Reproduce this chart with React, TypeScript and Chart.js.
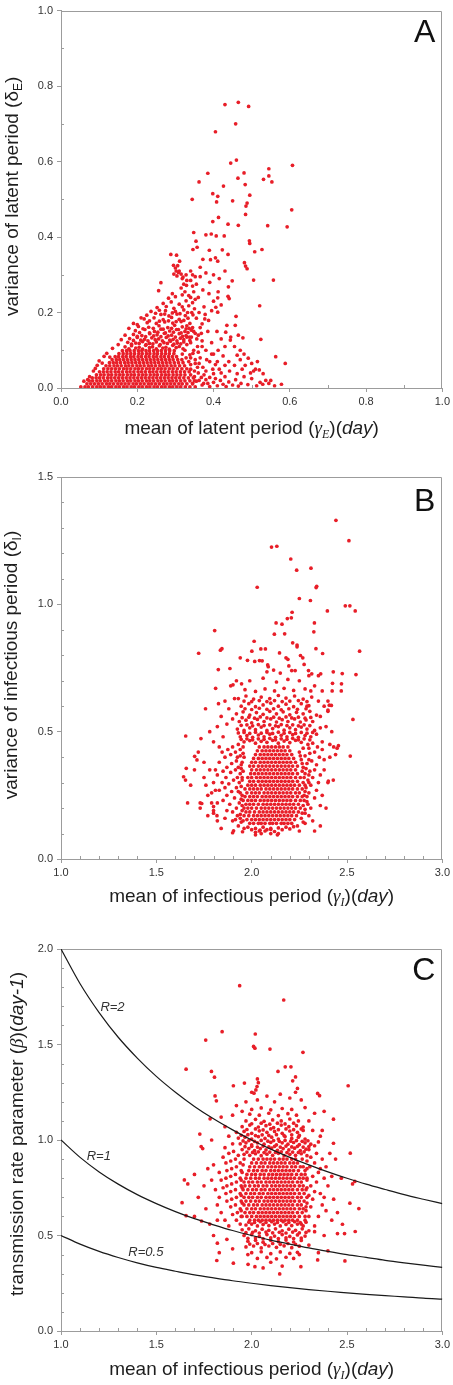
import React, { useEffect, useRef } from "react";
import { Chart, registerables } from "chart.js";
Chart.register(...registerables);

type Pt = [number, number];

// ---------------- Panel A : latent period ----------------
const A_CORE_Y = [.003, .011, .019, .027, .035, .043, .051, .059, .067, .075, .083, .091, .099];
const A_CORE_X = [
  [.052, .063, .072, .083, .094, .103, .113, .124, .133, .144, .153, .164, .173, .184, .193, .204, .213, .224, .233, .244, .253, .264, .273, .284, .293, .304, .314, .326, .338, .352],
  [.068, .078, .088, .098, .108, .119, .128, .138, .149, .158, .168, .178, .189, .198, .208, .218, .229, .238, .248, .258, .269, .278, .288, .298, .309, .318, .33, .345],
  [.074, .083, .094, .103, .114, .123, .133, .144, .153, .163, .174, .183, .194, .203, .213, .224, .233, .243, .254, .263, .273, .284, .293, .303, .314, .325, .338, .35],
  [.082, .092, .101, .111, .122, .131, .141, .151, .161, .171, .181, .191, .201, .211, .221, .231, .241, .251, .261, .271, .281, .291, .301, .311, .322, .334, .347],
  [.093, .104, .113, .124, .133, .144, .154, .163, .174, .184, .193, .204, .214, .223, .234, .244, .253, .264, .274, .283, .294, .304, .314, .325, .34],
  [.101, .111, .121, .131, .142, .151, .161, .172, .181, .191, .202, .211, .221, .232, .241, .251, .262, .271, .281, .292, .302, .313, .324, .336],
  [.112, .123, .133, .143, .153, .164, .173, .183, .194, .203, .213, .224, .233, .243, .254, .263, .273, .284, .294, .305, .317, .33],
  [.118, .128, .139, .148, .158, .169, .178, .188, .199, .208, .218, .229, .238, .248, .259, .268, .278, .289, .299, .311, .324],
  [.127, .137, .146, .156, .167, .176, .186, .196, .206, .216, .226, .236, .246, .256, .266, .276, .286, .297, .308, .32],
  [.134, .145, .154, .164, .174, .184, .194, .204, .214, .224, .234, .244, .254, .264, .274, .284, .294, .306, .317],
  [.142, .151, .162, .171, .182, .191, .202, .211, .222, .231, .242, .251, .262, .271, .282, .292, .303],
  [.152, .163, .173, .183, .193, .204, .213, .224, .233, .244, .253, .264, .274, .284, .296],
  [.161, .172, .181, .192, .203, .212, .223, .232, .243, .253, .263, .274, .285, .297],
];
const A_MID: Pt[] = [
  [.168, .109], [.185, .112], [.205, .108], [.222, .113], [.24, .109], [.258, .112], [.275, .108], [.293, .113], [.31, .11],
  [.175, .121], [.196, .119], [.214, .123], [.232, .118], [.25, .122], [.27, .12], [.287, .124], [.305, .119], [.322, .122],
  [.18, .131], [.2, .134], [.219, .129], [.238, .133], [.256, .13], [.276, .134], [.294, .129], [.313, .132], [.33, .135],
  [.19, .142], [.212, .139], [.233, .144], [.252, .141], [.271, .145], [.29, .14], [.31, .144], [.328, .139],
  [.195, .152], [.22, .155], [.245, .15], [.262, .156], [.285, .151], [.303, .155], [.325, .15], [.342, .153],
  [.203, .163], [.23, .161], [.257, .165], [.28, .16], [.298, .166], [.318, .162], [.336, .158],
  [.2, .168], [.226, .173], [.25, .171], [.272, .175], [.293, .172], [.315, .176], [.338, .171],
  [.218, .183], [.244, .186], [.268, .181], [.29, .187], [.31, .182], [.333, .185],
  [.225, .193], [.262, .195], [.283, .191], [.304, .196], [.326, .192], [.346, .194],
  [.236, .203], [.258, .206], [.3, .203], [.322, .207], [.343, .2],
  [.252, .213], [.276, .216], [.296, .211], [.318, .215], [.335, .218],
  [.268, .224], [.289, .228], [.31, .222], [.328, .231], [.345, .226], [.282, .238], [.3, .242], [.318, .247], [.34, .24], [.352, .235], [.292, .25], [.274, .205], [.21, .186], [.19, .171],
  [.113, .084], [.095, .06], [.085, .045], [.075, .03], [.06, .018], [.1, .072], [.12, .092], [.135, .105], [.15, .115], [.158, .128], [.168, .14], [.178, .158], [.09, .052], [.07, .022], [.108, .066], [.128, .082],
  [.34, .05], [.352, .065], [.36, .04], [.365, .08], [.372, .055], [.348, .1], [.358, .11], [.37, .125], [.36, .14], [.38, .1], [.39, .07], [.385, .15], [.37, .17], [.355, .185], [.345, .16], [.362, .2], [.375, .215], [.35, .21], [.395, .12], [.4, .09], [.34, .08], [.35, .03], [.362, .02], [.375, .035], [.382, .075], [.398, .05], [.41, .07], [.42, .04], [.405, .025], [.43, .06], [.356, .13], [.368, .145], [.378, .195], [.34, .12],
  [.315, .265], [.325, .255], [.335, .245], [.345, .27], [.33, .285], [.318, .29], [.348, .255], [.36, .24], [.355, .275], [.365, .295], [.372, .26], [.38, .305], [.39, .28], [.388, .25], [.4, .23], [.412, .255], [.395, .205], [.42, .22], [.328, .3], [.34, .31], [.31, .31], [.365, .32], [.4, .3], [.415, .29], [.43, .31],
];
const A_MID2: Pt[] = [
  [.178, .104], [.196, .106], [.214, .103], [.232, .107], [.25, .104], [.267, .106], [.284, .103], [.302, .107], [.32, .104],
  [.185, .116], [.205, .118], [.223, .115], [.241, .117], [.26, .115], [.279, .118], [.296, .116], [.314, .117], [.33, .115],
  [.19, .126], [.209, .127], [.228, .125], [.247, .128], [.266, .125], [.285, .127], [.304, .125], [.322, .128], [.338, .126],
  [.2, .137], [.222, .136], [.243, .138], [.262, .136], [.281, .138], [.3, .135], [.319, .137], [.337, .135],
  [.206, .147], [.232, .146], [.254, .148], [.274, .146], [.295, .148], [.315, .146], [.333, .147],
  [.215, .157], [.242, .158], [.268, .156], [.29, .158], [.308, .155], [.328, .157], [.348, .15],
  [.232, .178], [.258, .177], [.282, .178], [.302, .176], [.322, .179],
  [.248, .198], [.272, .196], [.292, .199], [.312, .197], [.332, .2],
  [.345, .012], [.355, .018], [.35, .045], [.358, .055], [.34, .062], [.352, .075], [.338, .088], [.346, .092], [.362, .065], [.368, .028], [.374, .012], [.38, .022], [.335, .07], [.328, .08], [.318, .09], [.325, .1], [.36, .095], [.37, .11], [.342, .135], [.352, .145], [.365, .16], [.33, .165],
];
const A_BAND: Pt[] = [
  [.37, .008], [.385, .012], [.39, .004], [.4, .015], [.41, .006], [.418, .02], [.425, .01], [.433, .004], [.44, .016], [.45, .008], [.458, .022], [.465, .005], [.472, .012], [.48, .03], [.49, .009], [.497, .04], [.505, .045], [.51, .05], [.52, .048], [.53, .038], [.537, .02], [.545, .012], [.522, .015], [.513, .006], [.55, .02], [.56, .006], [.462, .038], [.475, .05], [.455, .06], [.442, .045], [.43, .03], [.415, .05], [.4, .038], [.39, .028], [.38, .045], [.47, .075], [.483, .06], [.5, .025], [.529, .01], [.405, .062], [.44, .07], [.425, .085], [.395, .09], [.455, .11], [.48, .09], [.5, .065], [.515, .07], [.47, .1], [.43, .11], [.445, .135], [.42, .13], [.465, .14],
];
const A_OUT: Pt[] = [
  [.43, .751], [.465, .757], [.492, .746], [.458, .7], [.405, .679], [.46, .604], [.445, .596], [.607, .59], [.545, .581], [.48, .57], [.385, .569], [.464, .556], [.545, .562], [.531, .553], [.553, .546], [.362, .546], [.483, .539], [.426, .535], [.495, .511], [.398, .515], [.411, .508], [.408, .493], [.344, .5], [.45, .496], [.488, .49], [.485, .482], [.605, .472], [.484, .46], [.413, .452], [.398, .441], [.438, .434], [.542, .43], [.465, .431], [.593, .427], [.348, .412], [.38, .406], [.394, .408], [.407, .403], [.428, .403], [.494, .39], [.495, .383], [.354, .389], [.357, .373], [.346, .367], [.389, .365], [.423, .366], [.527, .367], [.508, .361], [.288, .354], [.303, .352], [.311, .336], [.405, .345], [.411, .336], [.372, .341], [.392, .34], [.438, .354], [.481, .332], [.484, .323], [.488, .316], [.505, .286], [.557, .286], [.449, .284], [.262, .279], [.439, .268], [.256, .258], [.438, .243], [.441, .237], [.411, .239], [.521, .218], [.406, .214], [.411, .201], [.459, .19], [.377, .183], [.387, .179], [.435, .166], [.457, .166], [.409, .15], [.432, .148], [.524, .129], [.444, .127], [.477, .133], [.412, .1], [.563, .083], [.588, .065], [.491, .079], [.462, .087], [.578, .01],
  [.295, .325], [.3, .318], [.306, .324], [.302, .31], [.296, .302], [.304, .297], [.308, .306], [.315, .302], [.32, .294], [.322, .275], [.329, .272], [.34, .285], [.352, .295], [.345, .3],
];

// ---------------- Panel B : infectious period (variance) ----------------
const B_CORE_Y = [.14, .155, .17, .185, .2, .215, .23, .245, .26, .275, .29, .305, .32, .335, .35, .365, .38, .395, .41, .425, .44];
const B_CORE_X = [
  [1.99, 2.01, 2.035, 2.05, 2.07, 2.095, 2.11, 2.13, 2.155, 2.17, 2.19, 2.21],
  [1.975, 2.0, 2.02, 2.04, 2.06, 2.08, 2.1, 2.12, 2.14, 2.16, 2.18, 2.2, 2.225],
  [1.96, 1.985, 2.01, 2.03, 2.05, 2.07, 2.09, 2.11, 2.13, 2.15, 2.17, 2.19, 2.21, 2.235],
  [1.97, 1.99, 2.015, 2.04, 2.06, 2.08, 2.1, 2.12, 2.14, 2.16, 2.18, 2.2, 2.22, 2.245],
  [1.96, 1.98, 2.0, 2.025, 2.05, 2.07, 2.09, 2.11, 2.13, 2.15, 2.17, 2.19, 2.21, 2.23, 2.255],
  [1.97, 1.99, 2.01, 2.035, 2.06, 2.08, 2.1, 2.12, 2.14, 2.16, 2.18, 2.2, 2.22, 2.245],
  [1.955, 1.98, 2.0, 2.02, 2.045, 2.065, 2.085, 2.105, 2.125, 2.145, 2.165, 2.185, 2.205, 2.23, 2.255],
  [1.965, 1.99, 2.01, 2.03, 2.055, 2.075, 2.095, 2.115, 2.135, 2.155, 2.175, 2.195, 2.215, 2.24, 2.265],
  [1.975, 2.0, 2.02, 2.04, 2.065, 2.085, 2.105, 2.125, 2.145, 2.165, 2.185, 2.205, 2.23, 2.25],
  [1.965, 1.99, 2.01, 2.03, 2.05, 2.075, 2.095, 2.115, 2.135, 2.155, 2.175, 2.195, 2.215, 2.24, 2.265],
  [1.98, 2.0, 2.02, 2.045, 2.065, 2.085, 2.105, 2.125, 2.145, 2.165, 2.185, 2.205, 2.225, 2.25],
  [1.99, 2.01, 2.035, 2.055, 2.075, 2.095, 2.115, 2.135, 2.155, 2.175, 2.195, 2.215, 2.24],
  [1.98, 2.0, 2.025, 2.045, 2.065, 2.085, 2.105, 2.125, 2.145, 2.165, 2.185, 2.205, 2.23, 2.255],
  [1.995, 2.015, 2.035, 2.055, 2.075, 2.095, 2.115, 2.135, 2.155, 2.175, 2.195, 2.215, 2.24],
  [2.0, 2.025, 2.045, 2.065, 2.085, 2.105, 2.125, 2.145, 2.165, 2.185, 2.205, 2.23],
  [1.99, 2.01, 2.035, 2.055, 2.075, 2.095, 2.115, 2.135, 2.155, 2.175, 2.195, 2.215, 2.24],
  [2.0, 2.02, 2.045, 2.065, 2.085, 2.105, 2.125, 2.145, 2.165, 2.185, 2.205, 2.23],
  [2.01, 2.035, 2.055, 2.075, 2.095, 2.115, 2.135, 2.155, 2.175, 2.195, 2.22],
  [2.02, 2.045, 2.065, 2.085, 2.105, 2.125, 2.145, 2.165, 2.185, 2.21],
  [2.03, 2.055, 2.075, 2.095, 2.115, 2.135, 2.155, 2.175, 2.2],
  [2.04, 2.065, 2.085, 2.105, 2.125, 2.145, 2.165, 2.19],
];
const B_MID: Pt[] = [
  [1.93, .13], [1.915, .155], [1.94, .175], [1.92, .2], [1.9, .185], [1.935, .22], [1.91, .24], [1.885, .215], [1.94, .26], [1.92, .28], [1.895, .265], [1.87, .25], [1.935, .3], [1.905, .31], [1.88, .295], [1.86, .28], [1.94, .335], [1.915, .35], [1.89, .34], [1.865, .32], [1.845, .3], [1.945, .37], [1.92, .385], [1.895, .375], [1.87, .36], [1.85, .345], [1.94, .405], [1.915, .42], [1.89, .41], [1.86, .4], [1.83, .38], [1.955, .44], [1.93, .45], [1.9, .44], [1.875, .43], [1.845, .42], [1.82, .33], [1.83, .27], [1.85, .23], [1.87, .19], [1.9, .15], [1.86, .16], [1.82, .22], [1.8, .3], [1.81, .35], [1.79, .26], [1.955, .15], [1.95, .21], [1.95, .32], [1.96, .4],
  [2.24, .13], [2.26, .16], [2.28, .18], [2.27, .21], [2.29, .225], [2.275, .25], [2.3, .26], [2.285, .28], [2.31, .29], [2.27, .3], [2.295, .31], [2.32, .32], [2.28, .335], [2.305, .345], [2.33, .35], [2.27, .36], [2.29, .375], [2.315, .385], [2.34, .37], [2.26, .39], [2.28, .405], [2.305, .415], [2.33, .42], [2.355, .4], [2.25, .42], [2.27, .435], [2.295, .45], [2.32, .455], [2.345, .44], [2.37, .43], [2.31, .2], [2.33, .24], [2.35, .3], [2.36, .33], [2.34, .27], [2.3, .17], [2.32, .15], [2.25, .11], [2.28, .14], [2.36, .21], [2.38, .35], [2.37, .46],
  [1.96, .12], [1.98, .125], [2.0, .115], [2.02, .12], [2.04, .11], [2.06, .125], [2.08, .115], [2.1, .12], [2.12, .108], [2.14, .122], [2.16, .115], [2.18, .125], [2.2, .118], [2.22, .127], [2.05, .1], [2.1, .1], [2.135, .095], [2.02, .105],
  [1.96, .46], [1.99, .465], [2.02, .455], [2.05, .462], [2.08, .458], [2.11, .466], [2.14, .455], [2.17, .463], [2.2, .457], [2.23, .466], [2.26, .458],
  [1.94, .48], [1.975, .485], [2.005, .478], [2.035, .487], [2.065, .48], [2.095, .49], [2.125, .478], [2.155, .486], [2.185, .48], [2.215, .488], [2.245, .478], [2.28, .485], [2.31, .48], [2.34, .49],
  [1.925, .51], [1.96, .505], [1.99, .515], [2.02, .508], [2.05, .518], [2.08, .505], [2.11, .512], [2.14, .52], [2.17, .506], [2.2, .515], [2.23, .508], [2.26, .518], [2.29, .51], [2.33, .505], [2.36, .515],
  [1.935, .54], [1.97, .545], [2.0, .535], [2.03, .548], [2.065, .54], [2.1, .55], [2.13, .538], [2.16, .547], [2.19, .54], [2.225, .55], [2.255, .538], [2.285, .546], [2.32, .54],
  [1.92, .57], [1.955, .578], [1.99, .565], [2.025, .575], [2.06, .568], [2.095, .58], [2.13, .57], [2.165, .578], [2.2, .566], [2.235, .576], [2.27, .57], [2.305, .58], [2.34, .565],
  [1.945, .6], [1.985, .61], [2.02, .598], [2.06, .605], [2.1, .612], [2.14, .6], [2.18, .608], [2.22, .598], [2.26, .61], [2.3, .602],
  [1.93, .63], [1.97, .64], [2.01, .628], [2.05, .636], [2.095, .63], [2.14, .642], [2.18, .632], [2.225, .64], [2.27, .628], [2.315, .636],
  [1.965, .665], [2.02, .658], [2.07, .668], [2.12, .66], [2.17, .67], [2.22, .662], [2.28, .668],
  [1.99, .7], [2.06, .71], [2.13, .695], [2.19, .705], [2.25, .7], [2.08, .735], [2.15, .73], [2.21, .74], [2.3, .72],
  [1.72, .42], [1.75, .38], [1.78, .35], [1.76, .29], [1.79, .22], [1.8, .18], [1.77, .25], [1.82, .15], [1.84, .12], [1.85, .48], [1.8, .46], [1.78, .5], [1.87, .53], [1.84, .56], [1.88, .59], [1.9, .55], [1.86, .62], [1.91, .63], [1.89, .68], [1.92, .7], [1.82, .52], [1.83, .44], [1.75, .32], [1.7, .35], [1.68, .29], [1.73, .2], [1.77, .17], [1.81, .27],
  [2.39, .2], [2.37, .25], [2.4, .3], [2.38, .39], [2.41, .45], [2.39, .52], [2.36, .56], [2.38, .6], [2.4, .58], [2.42, .5], [2.35, .62], [2.37, .66], [2.33, .68], [2.35, .72], [2.31, .66], [2.29, .6], [2.4, .62], [2.43, .44], [2.36, .13], [2.33, .11], [2.41, .4],
];
const B_MID2: Pt[] = [
  [1.945, .47], [1.975, .472], [2.005, .468], [2.035, .472], [2.065, .47], [2.095, .474], [2.125, .468], [2.155, .472], [2.185, .47], [2.215, .474], [2.245, .468], [2.275, .472], [2.305, .468],
  [1.93, .495], [1.96, .497], [1.99, .493], [2.02, .498], [2.05, .494], [2.08, .497], [2.11, .493], [2.14, .498], [2.17, .494], [2.2, .497], [2.23, .493], [2.26, .497], [2.29, .494], [2.32, .497],
  [1.945, .525], [1.975, .527], [2.005, .523], [2.035, .528], [2.065, .524], [2.095, .527], [2.125, .523], [2.155, .528], [2.185, .524], [2.215, .527], [2.245, .523], [2.275, .527], [2.305, .524],
  [1.95, .555], [1.985, .557], [2.015, .553], [2.045, .558], [2.08, .554], [2.115, .557], [2.145, .553], [2.18, .558], [2.21, .554], [2.245, .557], [2.28, .553], [2.31, .556],
  [1.965, .59], [2.0, .587], [2.04, .592], [2.08, .588], [2.115, .59], [2.155, .586], [2.195, .59], [2.24, .588], [2.285, .59],
  [1.96, .62], [2.0, .618], [2.04, .622], [2.08, .618], [2.12, .622], [2.16, .618], [2.2, .62], [2.245, .622], [2.29, .618],
  [1.945, .145], [1.94, .16], [1.95, .19], [1.945, .235], [1.95, .25], [1.945, .285], [1.95, .31], [1.955, .345], [1.945, .355], [1.95, .38], [1.955, .415], [1.94, .43], [1.925, .17], [1.93, .265], [1.925, .32], [1.93, .36], [1.925, .4],
  [2.27, .145], [2.265, .18], [2.28, .195], [2.275, .23], [2.29, .245], [2.28, .265], [2.28, .29], [2.275, .32], [2.265, .345], [2.285, .355], [2.265, .375], [2.3, .39], [2.255, .405], [2.3, .435], [2.3, .33], [2.3, .3], [2.295, .215],
];
const B_OUT: Pt[] = [
  [2.442, 1.33], [2.51, 1.25], [2.104, 1.225], [2.132, 1.228], [2.205, 1.178], [2.311, 1.142], [2.236, 1.134], [2.341, 1.071], [2.338, 1.066], [2.029, 1.067], [2.25, 1.023], [2.308, 1.015], [2.491, .994], [2.515, .994], [2.397, .974], [2.543, .974], [2.212, .969], [2.187, .944], [2.208, .947], [2.128, .927], [2.159, .922], [2.329, .927], [2.326, .892], [1.806, .897], [2.119, .883], [2.173, .884], [2.215, .849], [2.013, .855], [2.238, .84], [2.238, .833], [1.844, .826], [1.836, .82], [2.337, .826], [2.566, .816], [1.722, .808], [2.048, .825], [2.072, .825], [2.001, .816], [2.146, .809], [2.372, .807], [2.256, .799], [2.268, .79], [2.18, .79], [2.19, .784], [1.94, .79], [1.978, .78], [2.041, .779], [2.055, .778], [2.016, .776], [2.084, .762], [2.275, .764], [1.825, .744], [1.886, .748], [2.087, .755], [2.115, .742], [2.195, .758], [2.428, .735], [2.475, .728], [2.547, .724], [2.228, .74], [2.298, .74], [2.315, .727], [2.362, .727], [2.424, .69], [2.471, .688], [2.422, .66], [2.47, .66], [1.811, .67], [1.902, .684], [1.947, .688], [2.531, .548], [1.758, .59], [1.826, .61], [2.407, .604], [2.4, .585], [2.418, .603], [1.654, .483], [1.734, .473], [2.517, .404], [2.428, .31], [2.402, .306], [1.657, .356], [1.643, .323], [1.653, .31], [1.701, .403], [1.713, .389], [1.664, .22], [1.73, .22], [1.738, .218], [1.8, .206], [1.8, .19], [1.818, .17], [1.905, .111], [1.9, .103], [1.952, .107], [2.02, .095], [2.044, .113], [2.07, .11], [2.1, .116], [2.14, .1], [2.44, .41], [2.455, .445], [2.448, .435],
];

// ---------------- Panel C : transmission rate ----------------
const C_CORE_Y = [.58, .6, .62, .64, .66, .68, .7, .72, .74, .76, .78, .8, .82, .84, .86, .88, .9];
const C_CORE_X = [
  [1.99, 2.015, 2.035, 2.055, 2.075, 2.095, 2.115, 2.135, 2.155, 2.175, 2.195, 2.215, 2.24],
  [1.975, 2.0, 2.025, 2.045, 2.065, 2.085, 2.105, 2.125, 2.145, 2.165, 2.185, 2.205, 2.225, 2.25],
  [1.965, 1.99, 2.01, 2.035, 2.055, 2.075, 2.095, 2.115, 2.135, 2.155, 2.175, 2.195, 2.215, 2.24, 2.265],
  [1.975, 2.0, 2.02, 2.045, 2.065, 2.085, 2.105, 2.125, 2.145, 2.165, 2.185, 2.205, 2.225, 2.25, 2.27],
  [1.96, 1.985, 2.01, 2.03, 2.055, 2.075, 2.095, 2.115, 2.135, 2.155, 2.175, 2.195, 2.215, 2.24, 2.26],
  [1.97, 1.995, 2.02, 2.04, 2.065, 2.085, 2.105, 2.125, 2.145, 2.165, 2.185, 2.205, 2.225, 2.25, 2.275],
  [1.96, 1.985, 2.005, 2.03, 2.05, 2.075, 2.095, 2.115, 2.135, 2.155, 2.175, 2.195, 2.215, 2.24, 2.26],
  [1.97, 1.995, 2.015, 2.04, 2.06, 2.085, 2.105, 2.125, 2.145, 2.165, 2.185, 2.205, 2.225, 2.25, 2.275],
  [1.955, 1.98, 2.005, 2.025, 2.05, 2.07, 2.095, 2.115, 2.135, 2.155, 2.175, 2.195, 2.215, 2.24, 2.265],
  [1.965, 1.99, 2.015, 2.035, 2.06, 2.08, 2.105, 2.125, 2.145, 2.165, 2.185, 2.205, 2.225, 2.25, 2.27],
  [1.96, 1.985, 2.005, 2.03, 2.05, 2.075, 2.095, 2.115, 2.135, 2.155, 2.175, 2.195, 2.215, 2.24, 2.26],
  [1.97, 1.995, 2.02, 2.04, 2.065, 2.085, 2.105, 2.125, 2.145, 2.165, 2.185, 2.205, 2.225, 2.25, 2.27],
  [1.975, 2.0, 2.02, 2.045, 2.065, 2.09, 2.11, 2.13, 2.15, 2.17, 2.19, 2.21, 2.235, 2.26],
  [1.985, 2.01, 2.03, 2.055, 2.075, 2.1, 2.12, 2.14, 2.16, 2.18, 2.2, 2.22, 2.245],
  [1.99, 2.015, 2.04, 2.06, 2.085, 2.105, 2.125, 2.145, 2.165, 2.185, 2.21, 2.23, 2.255],
  [2.0, 2.025, 2.05, 2.07, 2.095, 2.115, 2.135, 2.155, 2.175, 2.2, 2.22, 2.24],
  [2.01, 2.035, 2.06, 2.08, 2.1, 2.12, 2.145, 2.165, 2.185, 2.21, 2.23],
];
const C_MID: Pt[] = [
  [1.96, .925], [1.99, .92], [2.02, .928], [2.05, .918], [2.08, .926], [2.11, .92], [2.14, .93], [2.17, .918], [2.2, .925], [2.23, .92], [2.26, .928], [2.29, .918],
  [1.95, .95], [1.985, .955], [2.015, .945], [2.045, .955], [2.075, .948], [2.105, .958], [2.135, .946], [2.165, .955], [2.195, .948], [2.225, .957], [2.255, .945], [2.285, .952],
  [1.94, .98], [1.97, .985], [2.0, .975], [2.03, .985], [2.065, .978], [2.1, .988], [2.13, .975], [2.16, .985], [2.19, .978], [2.22, .987], [2.25, .976], [2.28, .985], [2.31, .978],
  [1.93, 1.01], [1.965, 1.015], [2.0, 1.005], [2.035, 1.018], [2.07, 1.008], [2.105, 1.015], [2.14, 1.005], [2.175, 1.018], [2.21, 1.008], [2.245, 1.015], [2.28, 1.005],
  [1.92, 1.04], [1.96, 1.045], [2.0, 1.035], [2.04, 1.048], [2.08, 1.04], [2.12, 1.045], [2.16, 1.035], [2.2, 1.047], [2.24, 1.04], [2.27, 1.05],
  [1.95, 1.07], [1.99, 1.078], [2.035, 1.068], [2.075, 1.075], [2.115, 1.065], [2.155, 1.078], [2.195, 1.07], [2.235, 1.075], [2.27, 1.068],
  [1.97, 1.1], [2.02, 1.108], [2.065, 1.098], [2.11, 1.105], [2.155, 1.1], [2.2, 1.11], [2.245, 1.1],
  [1.99, 1.135], [2.04, 1.13], [2.09, 1.14], [2.14, 1.128], [2.19, 1.138], [2.235, 1.13],
  [2.0, 1.16], [2.05, 1.168], [2.1, 1.158], [2.16, 1.165], [2.21, 1.16],
  [1.97, 1.2], [2.03, 1.21], [2.12, 1.2], [2.2, 1.22], [2.26, 1.21], [2.08, 1.23], [2.15, 1.24], [2.23, 1.25], [2.0, 1.25],
  [1.94, .56], [1.92, .58], [1.945, .6], [1.925, .62], [1.9, .61], [1.94, .64], [1.915, .66], [1.89, .65], [1.945, .68], [1.92, .7], [1.895, .69], [1.87, .68], [1.94, .72], [1.915, .74], [1.89, .73], [1.865, .72], [1.945, .76], [1.92, .78], [1.895, .77], [1.87, .76], [1.85, .75], [1.94, .8], [1.915, .82], [1.89, .81], [1.865, .8], [1.84, .79], [1.945, .84], [1.92, .86], [1.895, .85], [1.87, .84], [1.94, .88], [1.915, .9], [1.89, .89], [1.865, .88], [1.93, .92], [1.905, .94], [1.88, .93], [1.85, .91], [1.86, .96], [1.9, .98], [1.83, .7], [1.82, .66], [1.84, .62], [1.86, .58], [1.88, .55], [1.81, .74], [1.83, .83], [1.8, .87], [1.82, .58], [1.79, .79],
  [2.26, .56], [2.28, .58], [2.3, .6], [2.285, .63], [2.31, .65], [2.29, .67], [2.32, .69], [2.3, .71], [2.33, .73], [2.285, .74], [2.31, .76], [2.34, .78], [2.29, .79], [2.32, .81], [2.35, .83], [2.28, .84], [2.305, .86], [2.33, .88], [2.36, .85], [2.29, .89], [2.31, .91], [2.34, .93], [2.3, .95], [2.33, .97], [2.35, .99], [2.37, .9], [2.38, .8], [2.36, .72], [2.37, .66], [2.35, .6], [2.33, .55], [2.38, .7], [2.4, .76], [2.39, .86], [2.41, .93], [2.36, 1.02], [2.32, 1.05], [2.39, .63], [2.42, .81], [2.43, .69],
  [1.97, .555], [2.0, .56], [2.03, .55], [2.06, .558], [2.09, .552], [2.12, .56], [2.15, .55], [2.18, .558], [2.21, .552], [2.24, .56], [2.27, .55],
  [1.95, .53], [1.985, .535], [2.02, .525], [2.055, .533], [2.09, .527], [2.125, .535], [2.16, .525], [2.195, .533], [2.23, .527], [2.265, .535], [2.3, .525],
  [1.96, .5], [2.0, .505], [2.04, .495], [2.08, .505], [2.12, .497], [2.16, .505], [2.2, .495], [2.24, .503], [2.28, .497],
  [1.98, .47], [2.02, .475], [2.06, .465], [2.1, .475], [2.14, .468], [2.18, .476], [2.22, .466], [2.26, .474],
  [1.97, .44], [2.01, .445], [2.05, .435], [2.09, .445], [2.13, .438], [2.17, .446], [2.21, .436], [2.25, .444],
  [2.0, .41], [2.05, .415], [2.1, .405], [2.15, .414], [2.2, .406], [2.24, .412],
  [2.03, .38], [2.08, .385], [2.13, .378], [2.18, .386], [2.22, .38],
];
const C_MID2: Pt[] = [
  [1.975, .937], [2.005, .935], [2.035, .938], [2.065, .934], [2.095, .937], [2.125, .935], [2.155, .938], [2.185, .934], [2.215, .937], [2.245, .935], [2.275, .938],
  [1.965, .965], [2.0, .967], [2.03, .963], [2.06, .968], [2.09, .964], [2.12, .967], [2.15, .963], [2.18, .968], [2.21, .964], [2.24, .967], [2.27, .963], [2.3, .966],
  [1.955, .995], [1.985, .997], [2.015, .993], [2.05, .998], [2.085, .994], [2.115, .997], [2.145, .993], [2.175, .998], [2.205, .994], [2.235, .997], [2.265, .993], [2.295, .996],
  [1.945, 1.025], [1.98, 1.028], [2.02, 1.023], [2.055, 1.027], [2.09, 1.024], [2.13, 1.028], [2.17, 1.023], [2.21, 1.027], [2.25, 1.024],
  [1.975, 1.055], [2.02, 1.058], [2.06, 1.053], [2.1, 1.058], [2.14, 1.054], [2.18, 1.058], [2.22, 1.054], [2.26, 1.058],
  [2.0, 1.085], [2.05, 1.088], [2.095, 1.083], [2.135, 1.088], [2.175, 1.084], [2.22, 1.088],
  [1.985, .57], [2.015, .568], [2.045, .572], [2.075, .568], [2.105, .572], [2.135, .568], [2.165, .572], [2.195, .568], [2.225, .572], [2.255, .568], [2.285, .57],
  [1.97, .515], [2.005, .517], [2.04, .513], [2.075, .518], [2.11, .514], [2.145, .517], [2.18, .513], [2.215, .518], [2.25, .514], [2.285, .516],
  [1.98, .485], [2.02, .488], [2.06, .483], [2.1, .488], [2.14, .484], [2.18, .488], [2.22, .484], [2.26, .487],
  [1.99, .455], [2.03, .458], [2.07, .453], [2.11, .458], [2.15, .454], [2.19, .458], [2.23, .454],
  [1.95, .6], [1.945, .63], [1.95, .67], [1.945, .71], [1.95, .75], [1.945, .79], [1.95, .83], [1.955, .87], [1.96, .9], [2.28, .6], [2.285, .65], [2.29, .7], [2.29, .75], [2.29, .8], [2.28, .82], [2.27, .86], [2.265, .9], [2.29, .85],
];
const C_OUT: Pt[] = [
  [1.937, 1.808], [2.168, 1.733], [1.845, 1.567], [1.759, 1.523], [2.019, 1.555], [2.01, 1.49], [2.017, 1.481], [2.096, 1.476], [2.269, 1.459], [1.656, 1.371], [1.789, 1.359], [2.176, 1.383], [2.206, 1.383], [1.805, 1.329], [2.138, 1.359], [2.506, 1.284], [1.904, 1.284], [1.962, 1.298], [2.03, 1.32], [2.035, 1.3], [2.028, 1.28], [2.022, 1.262], [2.012, 1.245], [1.808, 1.231], [1.815, 1.205], [2.346, 1.244], [2.356, 1.232], [2.24, 1.27], [2.215, 1.31], [2.23, 1.33], [2.38, 1.15], [2.429, 1.109], [1.782, 1.111], [1.728, 1.031], [1.735, .966], [1.743, .955], [2.429, .983], [2.517, .931], [1.647, .791], [1.665, .77], [2.541, .783], [2.529, .77], [1.635, .672], [2.515, .669], [2.562, .641], [1.656, .604], [1.7, .6], [1.737, .576], [2.476, .559], [2.543, .521], [2.45, .51], [2.487, .51], [1.904, .355], [1.817, .369], [1.981, .349], [2.017, .337], [2.147, .299], [2.258, .337], [2.346, .372], [2.489, .367], [1.83, .41], [1.82, .46], [2.4, .42], [2.35, .41], [1.77, .85], [1.79, 1.0], [1.86, 1.07], [1.84, 1.12], [1.9, 1.13], [1.92, 1.18], [2.3, 1.1], [2.33, 1.14], [2.44, .9], [2.47, .8], [2.45, .62], [1.72, .7], [1.75, .76], [1.76, .64], [1.7, .82], [1.78, .56], [1.8, .5], [1.87, .48], [1.9, .43], [2.38, .5], [2.42, .58], [2.3, .45], [2.33, .52], [1.88, 1.02], [2.37, 1.05], [1.95, 1.15], [2.28, 1.17], [1.98, .4], [2.25, .4], [2.1, .36], [2.16, .34], [2.06, .33],
];

// reference curves β = R/γ, read at γ = 1.0 ... 3.0
const CURVE_X = [1.0, 1.1, 1.2, 1.3, 1.4, 1.5, 1.6, 1.7, 1.8, 1.9, 2.0, 2.1, 2.2, 2.3, 2.4, 2.5, 2.6, 2.7, 2.8, 2.9, 3.0];
const CURVE_R2 = [2.0, 1.818, 1.667, 1.538, 1.429, 1.333, 1.25, 1.176, 1.111, 1.053, 1.0, .952, .909, .87, .833, .8, .769, .741, .714, .69, .667];
const CURVE_R1 = [1.0, .909, .833, .769, .714, .667, .625, .588, .556, .526, .5, .476, .455, .435, .417, .4, .385, .37, .357, .345, .333];
const CURVE_R05 = [.5, .455, .417, .385, .357, .333, .313, .294, .278, .263, .25, .238, .227, .217, .208, .2, .192, .185, .179, .172, .167];
const CURVE_LABELS = ["R=2", "R=1", "R=0.5"];
const CURVE_LABEL_X = [1.27, 1.198, 1.445];
const CURVE_LABEL_Y = [1.695, .916, .41];

// ---------------- rendering ----------------
const FONT = "'Liberation Sans', Arial, Helvetica, sans-serif";
const SERIF = "'Liberation Serif', 'Times New Roman', serif";
const RED = "#e81e28";
const AXIS = "#9c9c9c";
const TITLE_SIZE = 19;

type Seg = { t: string; italic?: boolean; serif?: boolean; sub?: boolean };

function drawRich(ctx: CanvasRenderingContext2D, segs: Seg[], size: number, cx: number, cy: number, rotate: boolean) {
  ctx.save();
  ctx.translate(cx, cy);
  if (rotate) ctx.rotate(-Math.PI / 2);
  const fontOf = (s: Seg) => `${s.italic ? "italic " : ""}${s.sub ? Math.round(size * 0.62) : size}px ${s.serif ? SERIF : FONT}`;
  let total = 0;
  const widths = segs.map((s) => {
    ctx.font = fontOf(s);
    const w = ctx.measureText(s.t).width;
    total += w;
    return w;
  });
  let x = -total / 2;
  ctx.fillStyle = "#1e1e1e";
  ctx.textBaseline = "alphabetic";
  ctx.textAlign = "left";
  segs.forEach((s, i) => {
    ctx.font = fontOf(s);
    ctx.fillText(s.t, x, s.sub ? size * 0.22 : 0);
    x += widths[i];
  });
  ctx.restore();
}

function collect(coreY: number[], coreX: number[][], ...groups: Pt[][]): Pt[] {
  const out: Pt[] = [];
  coreY.forEach((y, i) => coreX[i].forEach((x) => out.push([x, y])));
  groups.forEach((g) => g.forEach((p) => out.push(p)));
  return out;
}

interface PanelCfg {
  height: number;
  top: number;
  bottom: number;
  xMin: number; xMax: number; xStep: number; xMinor: number;
  yMin: number; yMax: number; yStep: number; yMinor: number;
  letter: string;
  letterDy: number;
  xTitle: Seg[];
  yTitle: Seg[];
  xTitleDy: number;
  yTitleX: number;
  yTitleDy: number;
  points: Pt[];
  curves?: number[][];
}

const PANELS: PanelCfg[] = [
  {
    height: 460, top: 7, bottom: 388,
    xMin: 0, xMax: 1, xStep: 0.2, xMinor: 0.1,
    yMin: 0, yMax: 1, yStep: 0.2, yMinor: 0.1,
    letter: "A", letterDy: 31,
    xTitle: [{ t: "mean of latent period (" }, { t: "γ", italic: true, serif: true }, { t: "E", italic: true, serif: true, sub: true }, { t: ")(" }, { t: "day", italic: true }, { t: ")" }],
    yTitle: [{ t: "variance of latent period (" }, { t: "δ" }, { t: "E", sub: true }, { t: ")" }],
    xTitleDy: 46, yTitleX: 18, yTitleDy: -3,
    points: collect(A_CORE_Y, A_CORE_X, A_MID, A_MID2, A_BAND, A_OUT),
  },
  {
    height: 460, top: 17, bottom: 399,
    xMin: 1, xMax: 3, xStep: 0.5, xMinor: 0.1,
    yMin: 0, yMax: 1.5, yStep: 0.5, yMinor: 0.1,
    letter: "B", letterDy: 34,
    xTitle: [{ t: "mean of infectious period (" }, { t: "γ", italic: true, serif: true }, { t: "I", italic: true, serif: true, sub: true }, { t: ")(" }, { t: "day", italic: true }, { t: ")" }],
    yTitle: [{ t: "variance of infectious period (" }, { t: "δ" }, { t: "I", sub: true }, { t: ")" }],
    xTitleDy: 43, yTitleX: 17, yTitleDy: -3,
    points: collect(B_CORE_Y, B_CORE_X, B_MID, B_MID2, B_OUT),
  },
  {
    height: 465, top: 29, bottom: 411,
    xMin: 1, xMax: 3, xStep: 0.5, xMinor: 0.1,
    yMin: 0, yMax: 2, yStep: 0.5, yMinor: 0.1,
    letter: "C", letterDy: 31,
    xTitle: [{ t: "mean of infectious period (" }, { t: "γ", italic: true, serif: true }, { t: "I", italic: true, serif: true, sub: true }, { t: ")(" }, { t: "day", italic: true }, { t: ")" }],
    yTitle: [{ t: "transmission rate parameter (" }, { t: "β", italic: true, serif: true }, { t: ")(" }, { t: "day-1", italic: true }, { t: ")" }],
    xTitleDy: 44, yTitleX: 23, yTitleDy: -6,
    points: collect(C_CORE_Y, C_CORE_X, C_MID, C_MID2, C_OUT),
    curves: [CURVE_R2, CURVE_R1, CURVE_R05],
  },
];

function Panel({ cfg }: { cfg: PanelCfg }) {
  const ref = useRef<HTMLCanvasElement | null>(null);
  useEffect(() => {
    if (!ref.current) return;
    const datasets: any[] = [
      {
        data: cfg.points.map(([x, y]) => ({ x, y })),
        pointRadius: 1.85,
        pointBackgroundColor: RED,
        pointBorderWidth: 0,
        showLine: false,
        order: 2,
      },
    ];
    (cfg.curves || []).forEach((ys) => {
      datasets.push({
        data: CURVE_X.map((x, i) => ({ x, y: ys[i] })),
        showLine: true,
        pointRadius: 0,
        borderColor: "#1a1a1a",
        borderWidth: 1.2,
        cubicInterpolationMode: "monotone",
        fill: false,
        order: 0,
      });
    });

    const decor = {
      id: "decor",
      beforeDatasetsDraw(chart: any) {
        const { ctx, chartArea: a, scales } = chart;
        ctx.save();
        ctx.strokeStyle = AXIS;
        ctx.lineWidth = 1;
        ctx.beginPath();
        ctx.moveTo(Math.round(a.left) + 0.5, Math.round(a.top) + 0.5);
        ctx.lineTo(Math.round(a.right) - 0.5, Math.round(a.top) + 0.5);
        ctx.lineTo(Math.round(a.right) - 0.5, Math.round(a.bottom) + 0.5);
        ctx.stroke();
        const nx = Math.round((cfg.xMax - cfg.xMin) / cfg.xMinor);
        const rx = Math.round(cfg.xStep / cfg.xMinor);
        ctx.beginPath();
        for (let i = 1; i < nx; i++) {
          if (i % rx === 0) continue;
          const px = Math.round(scales.x.getPixelForValue(cfg.xMin + i * cfg.xMinor)) + 0.5;
          ctx.moveTo(px, Math.round(a.bottom));
          ctx.lineTo(px, Math.round(a.bottom) - 3);
        }
        const ny = Math.round((cfg.yMax - cfg.yMin) / cfg.yMinor);
        const ry = Math.round(cfg.yStep / cfg.yMinor);
        for (let i = 1; i < ny; i++) {
          if (i % ry === 0) continue;
          const py = Math.round(scales.y.getPixelForValue(cfg.yMin + i * cfg.yMinor)) + 0.5;
          ctx.moveTo(Math.round(a.left), py);
          ctx.lineTo(Math.round(a.left) + 3, py);
        }
        ctx.stroke();
        ctx.restore();
      },
      afterDraw(chart: any) {
        const { ctx, chartArea: a, scales } = chart;
        ctx.save();
        ctx.font = `32px ${FONT}`;
        ctx.fillStyle = "#111";
        ctx.textAlign = "right";
        ctx.textBaseline = "alphabetic";
        ctx.fillText(cfg.letter, a.right - 7, a.top + cfg.letterDy);
        if (cfg.curves) {
          ctx.font = `italic 13px ${FONT}`;
          ctx.fillStyle = "#333";
          ctx.textAlign = "center";
          ctx.textBaseline = "middle";
          CURVE_LABELS.forEach((t, i) => {
            ctx.fillText(t, scales.x.getPixelForValue(CURVE_LABEL_X[i]), scales.y.getPixelForValue(CURVE_LABEL_Y[i]));
          });
        }
        ctx.restore();
        drawRich(ctx, cfg.xTitle, TITLE_SIZE, (a.left + a.right) / 2, a.bottom + cfg.xTitleDy, false);
        drawRich(ctx, cfg.yTitle, TITLE_SIZE, cfg.yTitleX, (a.top + a.bottom) / 2 + cfg.yTitleDy, true);
      },
    };

    const tickFont = { family: FONT, size: 11 };
    const chart = new Chart(ref.current, {
      type: "scatter",
      data: { datasets },
      options: {
        animation: false,
        responsive: false,
        maintainAspectRatio: false,
        devicePixelRatio: 1,
        events: [],
        layout: { padding: { top: cfg.top, right: 10, bottom: 0, left: 0 } },
        plugins: { legend: { display: false }, tooltip: { enabled: false } },
        scales: {
          x: {
            type: "linear",
            min: cfg.xMin,
            max: cfg.xMax,
            afterFit: (s: any) => { s.height = cfg.height - cfg.bottom; },
            grid: { display: true, drawOnChartArea: false, drawTicks: true, tickLength: 4, color: AXIS },
            border: { display: true, color: AXIS },
            ticks: {
              stepSize: cfg.xStep,
              autoSkip: false,
              maxRotation: 0,
              padding: 3,
              color: "#333",
              font: tickFont,
              callback: (v: any) => Number(v).toFixed(1),
            },
          },
          y: {
            type: "linear",
            min: cfg.yMin,
            max: cfg.yMax,
            afterFit: (s: any) => { s.width = 61; },
            grid: { display: true, drawOnChartArea: false, drawTicks: true, tickLength: 4, color: AXIS },
            border: { display: true, color: AXIS },
            ticks: {
              stepSize: cfg.yStep,
              autoSkip: false,
              padding: 4,
              color: "#333",
              font: tickFont,
              callback: (v: any) => Number(v).toFixed(1),
            },
          },
        },
      } as any,
      plugins: [decor],
    });
    return () => chart.destroy();
  }, [cfg]);
  return <canvas ref={ref} width={453} height={cfg.height} style={{ display: "block", width: 453, height: cfg.height }} />;
}

export default function App() {
  return (
    <div style={{ position: "absolute", left: 0, top: 0, width: 453, background: "#fff" }}>
      {PANELS.map((p, i) => (
        <Panel key={i} cfg={p} />
      ))}
    </div>
  );
}
